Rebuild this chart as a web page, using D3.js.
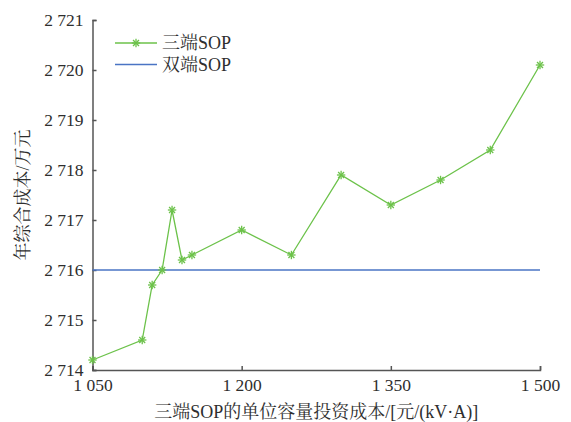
<!DOCTYPE html>
<meta charset="utf-8">
<style>
  body { margin: 0; background: #fff; }
  .axis path, .axis line { stroke: #555; stroke-width: 1.5; }
</style>
<svg width="571" height="422"></svg>
<script src="https://d3js.org/d3.v7.min.js"></script>
<script>
// data
var cost = [1050, 1100, 1110, 1120, 1130, 1140, 1150, 1200, 1250, 1300, 1350, 1400, 1450, 1500];
var threeTerm = [2714.2, 2714.6, 2715.7, 2716.0, 2717.2, 2716.2, 2716.3, 2716.8, 2716.3, 2717.9, 2717.3, 2717.8, 2718.4, 2720.1];
var twoTerm = [2716, 2716];
var twoCost = [1050, 1500];
var xTicks = [1050, 1200, 1350, 1500];
var yTicks = [2714, 2715, 2716, 2717, 2718, 2719, 2720, 2721];
var seriesNames = ["三端SOP", "双端SOP"];

var LATIN = "'Liberation Serif'", CJK = "'Noto Serif CJK SC'";
var svg = d3.select("svg");
var x = d3.scaleLinear().domain([1050, 1500]).range([92.5, 540]);
var y = d3.scaleLinear().domain([2714, 2721]).range([370, 20]);

// put mixed text in runs, one font per run
function mixed(sel, str) {
  var runs = str.match(/[\u3000-\u9fff\uff00-\uffef]+|[^\u3000-\u9fff\uff00-\uffef]+/g);
  runs.forEach(function(r) {
    sel.append("tspan")
      .style("font-family", /[\u3000-\u9fff]/.test(r) ? CJK : LATIN)
      .text(r);
  });
}

// thousands separated by a space
var fmt = function(d) { return d3.format(",")(d).replace(",", " "); };

var gx = svg.append("g").attr("class", "axis")
    .attr("transform", "translate(0," + y(2714) + ")")
    .call(d3.axisBottom(x).tickValues(xTicks).tickFormat(fmt).tickSizeInner(-4).tickSizeOuter(-4).tickPadding(9));
gx.select(".domain").attr("stroke", "#333");

var gy = svg.append("g").attr("class", "axis")
    .attr("transform", "translate(" + x(1050) + ",0)")
    .call(d3.axisLeft(y).tickValues(yTicks).tickFormat(fmt).tickSizeInner(-4).tickSizeOuter(-4).tickPadding(9));
gy.select(".domain").attr("stroke", "#777");
gy.selectAll(".tick text").attr("dy", "0.32em");
svg.selectAll(".axis").attr("font-family", null);
svg.selectAll(".tick text").style("font-size", "17.5px").style("font-family", LATIN);

// axis titles
svg.append("text")
    .attr("x", (x.range()[0] + x.range()[1]) / 2)
    .attr("y", 418)
    .attr("text-anchor", "middle")
    .style("font-size", "18px")
    .call(mixed, "三端SOP的单位容量投资成本/[元/(kV·A)]");

svg.append("text")
    .attr("transform", "translate(29," + (y(2714) + y(2721)) / 2 + ") rotate(-90)")
    .attr("text-anchor", "middle")
    .style("font-size", "18px")
    .call(mixed, "年综合成本/万元");

// lines
var green = "#6cc24a", blue = "#4a74c4";
svg.append("path")
    .datum(twoCost.map(function(c, i) { return [c, twoTerm[i]]; }))
    .attr("fill", "none").attr("stroke", blue).attr("stroke-width", 1.5)
    .attr("d", d3.line().x(function(d) { return x(d[0]); }).y(function(d) { return y(d[1]); }));

var pts = cost.map(function(c, i) { return [c, threeTerm[i]]; });
svg.append("path")
    .datum(pts)
    .attr("fill", "none").attr("stroke", green).attr("stroke-width", 1.3)
    .attr("d", d3.line().x(function(d) { return x(d[0]); }).y(function(d) { return y(d[1]); }));

// asterisk marker
function star(g, cx, cy) {
  var r = 4.2;
  for (var k = 0; k < 4; k++) {
    var a = k * Math.PI / 4;
    g.append("line")
      .attr("x1", cx - r * Math.cos(a)).attr("y1", cy - r * Math.sin(a))
      .attr("x2", cx + r * Math.cos(a)).attr("y2", cy + r * Math.sin(a))
      .attr("stroke", green).attr("stroke-width", 1.3);
  }
}
var marks = svg.append("g");
pts.forEach(function(d) { star(marks, x(d[0]), y(d[1])); });

// legend
var lg = svg.append("g");
lg.append("line").attr("x1", 115).attr("x2", 157).attr("y1", 43).attr("y2", 43)
  .attr("stroke", green).attr("stroke-width", 1.3);
star(lg, 136, 43);
lg.append("line").attr("x1", 115).attr("x2", 157).attr("y1", 64.5).attr("y2", 64.5)
  .attr("stroke", blue).attr("stroke-width", 1.5);
lg.selectAll("text.leg").data(seriesNames).enter().append("text")
  .attr("x", 162).attr("y", function(d, i) { return 43 + i * 21.5; })
  .attr("dy", "0.35em")
  .style("font-size", "18px")
  .each(function(d) { mixed(d3.select(this), d); });

svg.selectAll("text").style("fill", "#2e2e2e");
</script>
